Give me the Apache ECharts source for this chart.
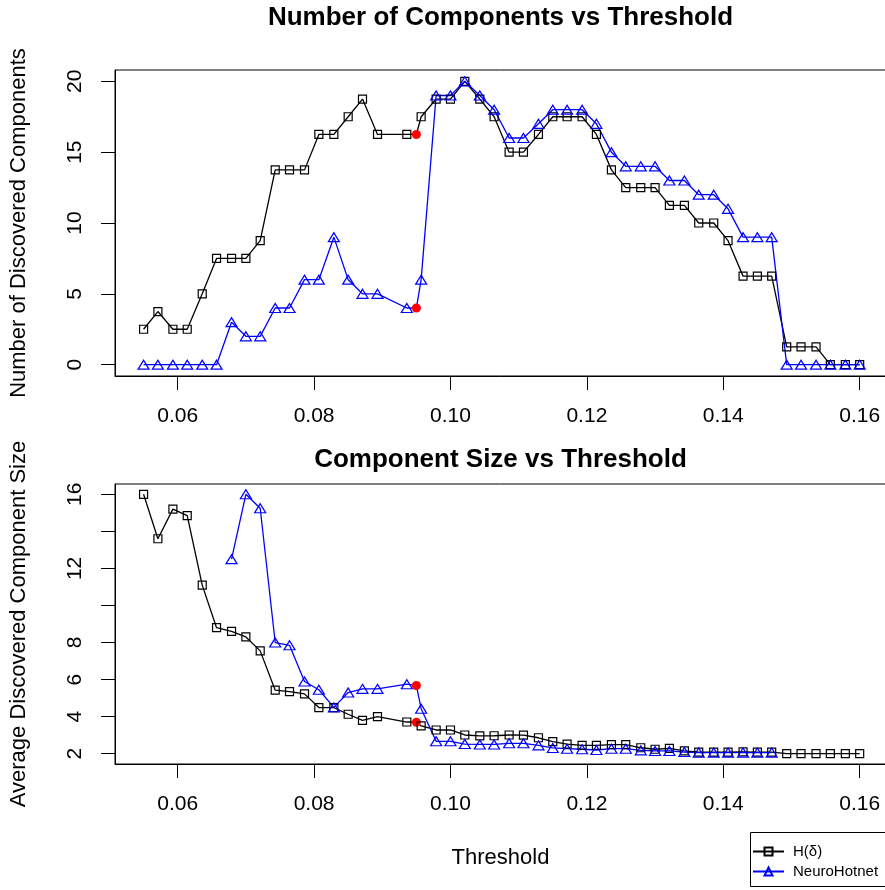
<!DOCTYPE html>
<html><head><meta charset="utf-8">
<script src="https://cdn.jsdelivr.net/npm/echarts@6/dist/echarts.min.js"></script>
<style>html,body{margin:0;padding:0;background:#fff}#c{width:885px;height:890px}</style>
</head><body><div id="c"></div>
<script>
// ---- data ----
const thresholds = [0.0550,0.0571,0.0593,0.0614,0.0636,0.0657,0.0679,0.0700,0.0721,0.0743,
  0.0764,0.0786,0.0807,0.0829,0.0850,0.0871,0.0893,0.0936,0.0950,0.0957,
  0.0979,0.1000,0.1021,0.1043,0.1064,0.1086,0.1107,0.1129,0.1150,0.1171,
  0.1193,0.1214,0.1236,0.1257,0.1279,0.1300,0.1321,0.1343,0.1364,0.1386,
  0.1407,0.1429,0.1450,0.1471,0.1493,0.1514,0.1536,0.1557,0.1579,0.1600];
const countH = [2.5,3.75,2.5,2.5,5,7.5,7.5,7.5,8.75,13.75,
  13.75,13.75,16.25,16.25,17.5,18.75,16.25,16.25,16.25,17.5,
  18.75,18.75,20,18.75,17.5,15,15,16.25,17.5,17.5,
  17.5,16.25,13.75,12.5,12.5,12.5,11.25,11.25,10,10,
  8.75,6.25,6.25,6.25,1.25,1.25,1.25,0,0,0];
const countN = [0,0,0,0,0,0,3,2,2,4,
  4,6,6,9,6,5,5,4,4,6,
  19,19,20,19,18,16,16,17,18,18,
  18,17,15,14,14,14,13,13,12,12,
  11,9,9,9,0,0,0,0,0,0];
const sizeH = [16,13.6,15.2,14.85,11.1,8.8,8.6,8.3,7.55,5.43,
  5.35,5.23,4.49,4.49,4.13,3.8,4.0,3.71,3.70,3.5,
  3.28,3.28,3.01,2.96,2.97,3.01,3.0,2.86,2.65,2.52,
  2.45,2.45,2.49,2.49,2.32,2.24,2.29,2.15,2.09,2.09,
  2.09,2.1,2.09,2.09,2.0,2.0,2.0,2.0,2.0,2.0];
const sizeN = [null,null,null,null,null,null,12.5,16.0,15.25,8.0,
  7.85,5.9,5.45,4.5,5.3,5.5,5.5,5.75,5.68,4.43,
  2.67,2.67,2.52,2.5,2.5,2.56,2.56,2.45,2.31,2.27,
  2.24,2.2,2.27,2.27,2.18,2.15,2.15,2.09,2.06,2.06,
  2.06,2.06,2.06,2.06,null,null,null,null,null,null];
const highlightThreshold = 0.095;
const xTicks = [0.06,0.08,0.10,0.12,0.14,0.16];
const countTicks = [0,5,10,15,20];
const sizeTicks = [2,4,6,8,10,12,14,16];
const sizeTickLabels = [2,4,6,8,12,16];
const seriesNames = ['H(\u03b4)','NeuroHotnet'];

const FONT = "'Liberation Sans', Arial, Helvetica, sans-serif";

function buildData(vals){
  return thresholds.map((t,i)=>{
    const v = vals[i];
    if (v === null) return [t,'-'];
    if (t === highlightThreshold) {
      return {value:[t,v], symbol:'circle', symbolSize:9,
        itemStyle:{color:'#ff0000', borderColor:'#ff0000', borderWidth:0}, z:5};
    }
    return [t,v];
  });
}
const styleH = {symbol:'rect', symbolSize:8,
  itemStyle:{color:'rgba(0,0,0,0)', borderColor:'#000', borderWidth:1.2},
  lineStyle:{color:'#000', width:1.3}};
const styleN = {symbol:'triangle', symbolSize:[11,9],
  itemStyle:{color:'rgba(0,0,0,0)', borderColor:'#0000ff', borderWidth:1.2},
  lineStyle:{color:'#0000ff', width:1.3}};

function xAxis(idx, withName){
  const a = {type:'value', gridIndex:idx, min:0.05081, max:0.16386,
    splitLine:{show:false},
    axisLine:{show:true, onZero:false, lineStyle:{color:'#000', width:1}},
    axisTick:{show:true, length:14, customValues:xTicks, lineStyle:{color:'#000', width:1}},
    axisLabel:{customValues:xTicks, formatter:v=>v.toFixed(2), margin:30,
      fontSize:21, color:'#000', fontFamily:FONT}};
  if (withName) {
    a.name = 'Threshold'; a.nameLocation = 'middle'; a.nameGap = 83;
    a.nameTextStyle = {fontSize:22, color:'#000', fontFamily:FONT};
  }
  return a;
}
function yAxis(idx, min, max, ticks, labels, name){
  return {type:'value', gridIndex:idx, min:min, max:max,
    splitLine:{show:false},
    axisLine:{show:true, onZero:false, lineStyle:{color:'#000', width:1}},
    axisTick:{show:true, length:14, customValues:ticks, lineStyle:{color:'#000', width:1}},
    axisLabel:{customValues:labels, rotate:90, margin:29,
      fontSize:21, color:'#000', fontFamily:FONT},
    name:name, nameLocation:'middle', nameGap:85,
    nameTextStyle:{fontSize:22, color:'#000', fontFamily:FONT}};
}

const chart = echarts.init(document.getElementById('c'), null, {renderer:'canvas'});
chart.setOption({
  animation:false,
  backgroundColor:'#fff',
  title:[
    {text:'Number of Components vs Threshold', left:500.5, top:5, textAlign:'center', padding:0,
      textStyle:{fontSize:26, fontWeight:'bold', color:'#000', fontFamily:FONT}},
    {text:'Component Size vs Threshold', left:500.5, top:446.5, textAlign:'center', padding:0,
      textStyle:{fontSize:26, fontWeight:'bold', color:'#000', fontFamily:FONT}}
  ],
  grid:[
    {left:115, top:70, width:771, height:306, show:true, borderColor:'#000', borderWidth:1,
      containLabel:false, outerBoundsMode:'none'},
    {left:115, top:484, width:771, height:280, show:true, borderColor:'#000', borderWidth:1,
      containLabel:false, outerBoundsMode:'none'}
  ],
  xAxis:[xAxis(0,false), xAxis(1,true)],
  yAxis:[
    yAxis(0,-0.8,20.8,countTicks,countTicks,'Number of Discovered Components'),
    yAxis(1,1.444,16.556,sizeTicks,sizeTickLabels,'Average Discovered Component Size')
  ],
  legend:{orient:'vertical', left:750, top:832, itemWidth:31, itemHeight:10, itemGap:5,
    padding:[12,45,8,2], borderWidth:0,
    textStyle:{fontSize:15, color:'#000', fontFamily:FONT, padding:[0,0,0,4]},
    data:seriesNames},
  graphic:[
    {type:'rect', silent:true, z:10,
      shape:{x:750.5, y:832.5, width:200, height:54},
      style:{fill:null, stroke:'#000', lineWidth:1}}
  ],
  series:[
    Object.assign({type:'line', name:seriesNames[0], xAxisIndex:0, yAxisIndex:0, data:buildData(countH), z:3}, styleH),
    Object.assign({type:'line', name:seriesNames[1], xAxisIndex:0, yAxisIndex:0, data:buildData(countN), z:3}, styleN),
    Object.assign({type:'line', name:seriesNames[0], xAxisIndex:1, yAxisIndex:1, data:buildData(sizeH), z:3}, styleH),
    Object.assign({type:'line', name:seriesNames[1], xAxisIndex:1, yAxisIndex:1, data:buildData(sizeN), z:3}, styleN)
  ]
});
</script>
</body></html>
